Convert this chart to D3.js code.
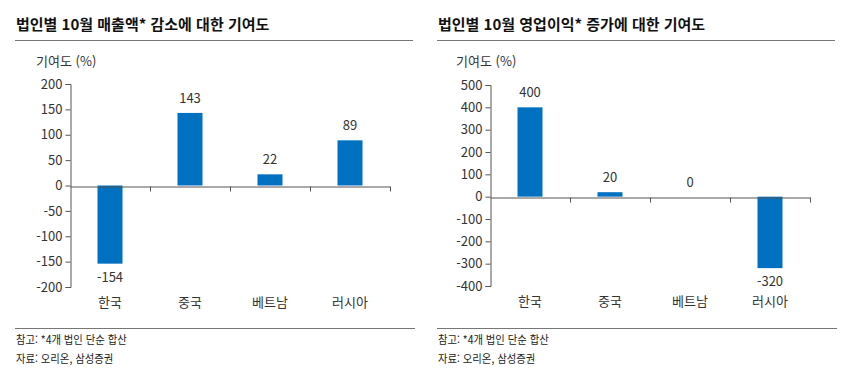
<!DOCTYPE html>
<html lang="ko">
<head>
<meta charset="utf-8">
<script src="https://cdnjs.cloudflare.com/ajax/libs/d3/7.8.5/d3.min.js"></script>
<style>
  body { margin: 0; background: #fff; }
  svg text { font-family: "Noto Sans CJK KR", "Noto Sans", sans-serif; }
</style>
</head>
<body>
<svg id="chart" width="847" height="373"></svg>
<script>
// categories shared by both panels
const categories = ['한국', '중국', '베트남', '러시아'];

// left panel: contribution to sales decline
const salesTitle = '법인별 10월 매출액* 감소에 대한 기여도';
const salesValues = [-154, 143, 22, 89];
const salesTicks = [200, 150, 100, 50, 0, -50, -100, -150, -200];

// right panel: contribution to operating profit increase
const profitTitle = '법인별 10월 영업이익* 증가에 대한 기여도';
const profitValues = [400, 20, 0, -320];
const profitTicks = [500, 400, 300, 200, 100, 0, -100, -200, -300, -400];

const unitLabel = '기여도 (%)';
const noteLines = ['참고: *4개 법인 단순 합산', '자료: 오리온, 삼성증권'];

const svg = d3.select('#chart');
const barColor = '#0070c0';

function panel(left, plotX, plotTop, plotBottom, title, values, ticks) {
  const g = svg.append('g');

  // title + rules
  g.append('text').attr('x', left + 1).attr('y', 30)
    .attr('font-size', 15).attr('font-weight', 'bold').attr('fill', '#111')
    .text(title);
  g.append('line').attr('x1', left).attr('x2', left + 398)
    .attr('y1', 40.5).attr('y2', 40.5).attr('stroke', '#777').attr('stroke-width', 1);
  g.append('line').attr('x1', left).attr('x2', left + 400)
    .attr('y1', 328.5).attr('y2', 328.5).attr('stroke', '#777').attr('stroke-width', 1);

  noteLines.forEach((t, i) => {
    g.append('text').attr('x', left + 1).attr('y', 344 + i * 19)
      .attr('font-size', 11.5).attr('fill', '#222')
      .attr('transform', `translate(${left + 1},0) scale(0.9,1) translate(${-(left + 1)},0)`)
      .text(t);
  });

  g.append('text').attr('x', plotX - 34).attr('y', 66)
    .attr('font-size', 13).attr('fill', '#333').text(unitLabel);

  const y = d3.scaleLinear()
    .domain([d3.min(ticks), d3.max(ticks)])
    .range([plotBottom, plotTop]);
  const x = d3.scaleBand().domain(categories)
    .range([plotX, plotX + 320]).paddingInner(0.6875).paddingOuter(0.34375);

  // bars
  g.selectAll('.bar').data(values).enter().append('rect')
    .attr('x', (d, i) => x(categories[i]))
    .attr('y', d => y(Math.max(0, d)))
    .attr('width', x.bandwidth())
    .attr('height', d => Math.abs(y(d) - y(0)))
    .attr('fill', barColor);

  // y axis (plain hyphen for negatives, like the source)
  const yAxis = d3.axisLeft(y).tickValues(ticks).tickSize(5).tickPadding(3)
    .tickFormat(d => String(d));
  const ya = g.append('g').attr('transform', `translate(${plotX + 0.5},0)`).call(yAxis);
  ya.selectAll('text').attr('font-size', 13).attr('fill', '#333')
    .style('font-family', '"Noto Sans CJK KR", sans-serif');
  ya.selectAll('line, path').attr('stroke', '#555');

  // x axis at zero with tick marks at band boundaries
  const xLine = d3.scaleLinear().domain([0, categories.length]).range([plotX, plotX + 320]);
  const xAxis = d3.axisBottom(xLine).tickValues([1, 2, 3, 4]).tickSize(5).tickSizeOuter(0).tickFormat('');
  const xa = g.append('g').attr('transform', `translate(0,${Math.round(y(0)) + 0.5})`).call(xAxis);
  xa.selectAll('line, path').attr('stroke', '#555');

  // category labels along the bottom
  g.selectAll('.cat').data(categories).enter().append('text')
    .attr('x', d => x(d) + x.bandwidth() / 2).attr('y', plotBottom + 20)
    .attr('text-anchor', 'middle').attr('font-size', 13).attr('fill', '#333')
    .text(d => d);

  // value labels
  g.selectAll('.val').data(values).enter().append('text')
    .attr('x', (d, i) => x(categories[i]) + x.bandwidth() / 2)
    .attr('y', d => d < 0 ? y(d) + 18 : y(d) - 10)
    .attr('text-anchor', 'middle').attr('font-size', 13).attr('fill', '#333')
    .text(d => String(d));
}

panel(15, 70, 84, 287, salesTitle, salesValues, salesTicks);
panel(437, 490, 85, 286, profitTitle, profitValues, profitTicks);
</script>
</body>
</html>
